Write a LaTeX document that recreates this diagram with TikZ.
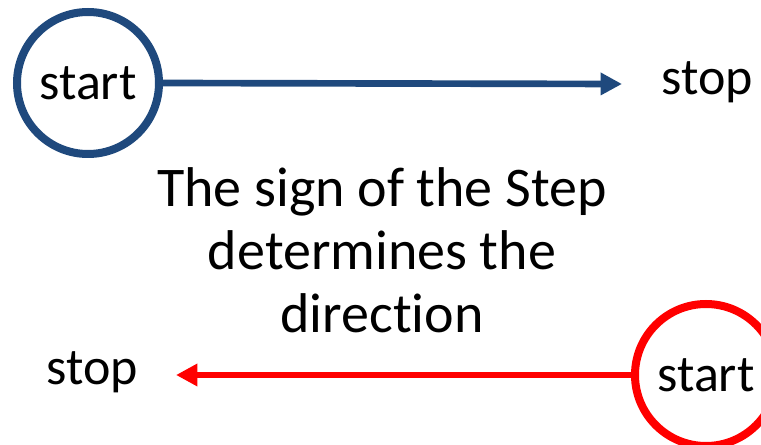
\documentclass[tikz,border=0pt]{standalone}
\usepackage{fontspec}
\setmainfont{Carlito}[Ligatures=NoCommon]
\usetikzlibrary{arrows.meta}
\definecolor{stepblue}{RGB}{31,73,125}
\begin{document}
\begin{tikzpicture}[x=0.75pt, y=-0.75pt, >={Triangle[length=16pt,width=16pt]},
    ring/.style={draw, circle, line width=6pt, minimum size=106.5pt, inner sep=0pt},
    lbl/.style={font=\fontsize{39}{47.25}\selectfont},
    vec/.style={line width=5pt}]
\useasboundingbox (0,0) rectangle (761,445);
% upward count: positive step
\node[ring, draw=stepblue, lbl] (start1) at (88,83) {start};
\node[lbl, anchor=base] (stop1) at (707.5,95) {stop};
\coordinate (tip1) at (622,84);
\draw[->, vec, stepblue] (start1.east) -- (tip1);
% the note in the middle
\node[lbl, font=\fontsize{42}{47.25}\selectfont, align=center, anchor=base] (note) at (382,333) {The sign of the Step\\determines the\\direction};
% downward count: negative step
\node[ring, draw=red, lbl] (start2) at (706,375) {start};
\node[lbl, anchor=base] (stop2) at (92.5,385) {stop};
\coordinate (tip2) at (176,375);
\draw[->, vec, red] (start2.west) -- (tip2);
\end{tikzpicture}
\end{document}
